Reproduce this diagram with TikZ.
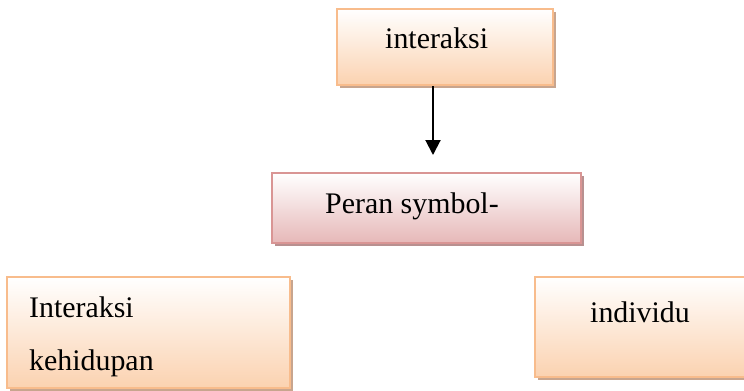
\documentclass[tikz,border=0pt]{standalone}
\usepackage{fontspec}
\setmainfont{Liberation Serif}
\usetikzlibrary{arrows.meta,shadows}
\definecolor{peach}{HTML}{FBD2B0}
\definecolor{peachline}{HTML}{F8BC8C}
\definecolor{pinkfill}{HTML}{E6B8B8}
\definecolor{pinkline}{HTML}{D99594}
\definecolor{shadowbrown}{HTML}{C8A58E}
\definecolor{shadowpink}{HTML}{B89090}
\tikzset{
  orangebox/.style={draw=peachline, line width=2bp, top color=white, bottom color=peach,
    general shadow={fill=shadowbrown, shadow xshift=3bp, shadow yshift=-3bp},
    inner sep=0pt},
  pinkbox/.style={draw=pinkline, line width=2bp, top color=white, bottom color=pinkfill,
    general shadow={fill=shadowpink, shadow xshift=3bp, shadow yshift=-3bp},
    inner sep=0pt},
  label text/.style={anchor=base west, inner sep=0pt, font=\fontsize{30}{34}\selectfont}
}
\begin{document}
\begin{tikzpicture}[x=1bp,y=-1bp]
\useasboundingbox (0,0) rectangle (744,390);
\node[orangebox, minimum width=216bp, minimum height=76bp] (top) at (445,47) {};
\node[pinkbox, minimum width=309bp, minimum height=70bp] (mid) at (426.5,208) {};
\node[orangebox, minimum width=283bp, minimum height=111bp] (left) at (148.5,332.5) {};
\node[orangebox, minimum width=213bp, minimum height=100bp] (right) at (641.5,327) {};
\node[label text] (t1) at (385,48) {interaksi};
\node[label text] (t2) at (325,213) {Peran symbol-};
\node[label text] (t3) at (29,317) {Interaksi};
\node[label text] (t4) at (29,370) {kehidupan};
\node[label text] (t5) at (590,322) {individu};
\coordinate (aend) at (433,155);
\draw[line width=2bp, -{Triangle[length=15bp,width=15bp]}] (top.south -| aend) -- (aend);
\end{tikzpicture}
\end{document}
